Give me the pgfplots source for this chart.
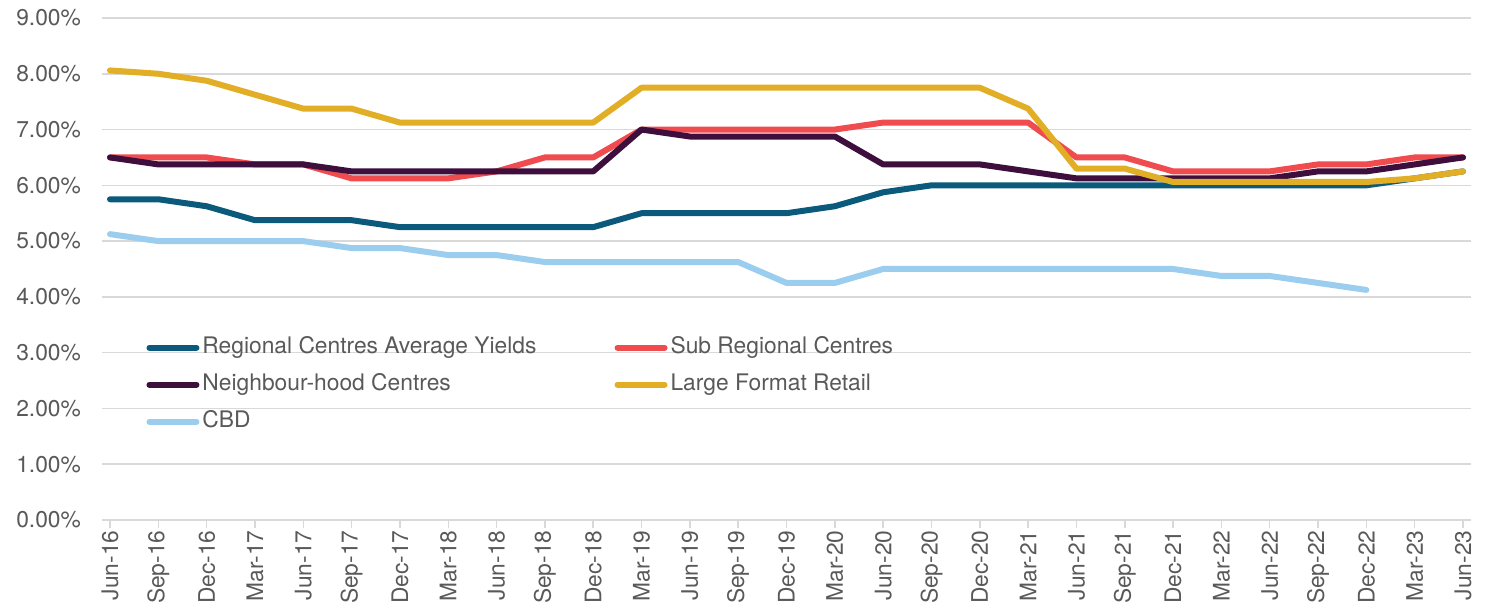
\documentclass[border=0pt]{standalone}
\usepackage{fontspec}
\setmainfont{TeX Gyre Heros}
\usepackage{pgfplots}
\pgfplotsset{compat=1.18}
\definecolor{cTeal}{HTML}{0B5A7C}
\definecolor{cRed}{HTML}{F04C4F}
\definecolor{cPurple}{HTML}{3E0E3C}
\definecolor{cGold}{HTML}{E2AE26}
\definecolor{cBlue}{HTML}{9BCEEE}
\definecolor{gridgray}{HTML}{D9D9D9}
\definecolor{textgray}{HTML}{595959}
\begin{document}
\begin{tikzpicture}
\begin{axis}[
  scale only axis, width=684.5pt, height=251pt,
  xmin=-0.1656, xmax=28.1656, ymin=0, ymax=9,
  axis x line*=bottom, axis y line*=left,
  x axis line style={gridgray, line width=0.75pt},
  y axis line style={draw=none},
  ytick={0,1,...,9}, ymajorgrids,
  grid style={gridgray, line width=0.75pt},
  xtick={0,1,...,28},
  xticklabels={Jun-16,Sep-16,Dec-16,Mar-17,Jun-17,Sep-17,Dec-17,Mar-18,Jun-18,Sep-18,Dec-18,Mar-19,Jun-19,Sep-19,Dec-19,Mar-20,Jun-20,Sep-20,Dec-20,Mar-21,Jun-21,Sep-21,Dec-21,Mar-22,Jun-22,Sep-22,Dec-22,Mar-23,Jun-23},
  tick align=outside, major tick length=4pt,
  xtick style={gridgray, line width=0.75pt},
  ytick style={draw=none},
  /pgf/number format/assume math mode=true,
  yticklabel={\pgfmathprintnumber[fixed,fixed zerofill,precision=2]{\tick}\%},
  tick label style={font=\fontsize{11.4}{13}\selectfont, text=textgray},
  x tick label style={rotate=90, anchor=east, inner sep=1pt},
  y tick label style={xshift=-3pt},
  legend columns=2,
  legend cell align=left,
  legend image code/.code={\draw[#1, line width=3pt, line cap=round] (0pt,0pt) -- (23.5pt,0pt);},
  legend style={draw=none, fill=none, at={(axis description cs:0.0278,0.380)}, anchor=north west,
    font=\fontsize{11.4}{13}\selectfont, text=textgray, row sep=4.5pt,
    nodes={inner sep=1.5pt, text depth=0.25em},
    /tikz/every even column/.append style={column sep=37.5pt}},
  every axis plot/.append style={line width=3pt, line join=round, line cap=round},
]
\addplot[cTeal] coordinates {(0,5.75)(1,5.75)(2,5.625)(3,5.375)(4,5.375)(5,5.375)(6,5.25)(7,5.25)(8,5.25)(9,5.25)(10,5.25)(11,5.5)(12,5.5)(13,5.5)(14,5.5)(15,5.625)(16,5.875)(17,6)(18,6)(19,6)(20,6)(21,6)(22,6)(23,6)(24,6)(25,6)(26,6)(27,6.125)(28,6.25)};
\addlegendentry{Regional Centres Average Yields}
\addplot[cRed] coordinates {(0,6.5)(1,6.5)(2,6.5)(3,6.375)(4,6.375)(5,6.125)(6,6.125)(7,6.125)(8,6.25)(9,6.5)(10,6.5)(11,7)(12,7)(13,7)(14,7)(15,7)(16,7.125)(17,7.125)(18,7.125)(19,7.125)(20,6.5)(21,6.5)(22,6.25)(23,6.25)(24,6.25)(25,6.375)(26,6.375)(27,6.5)(28,6.5)};
\addlegendentry{Sub Regional Centres}
\addplot[cPurple] coordinates {(0,6.5)(1,6.375)(2,6.375)(3,6.375)(4,6.375)(5,6.25)(6,6.25)(7,6.25)(8,6.25)(9,6.25)(10,6.25)(11,7)(12,6.875)(13,6.875)(14,6.875)(15,6.875)(16,6.375)(17,6.375)(18,6.375)(19,6.25)(20,6.125)(21,6.125)(22,6.125)(23,6.125)(24,6.125)(25,6.25)(26,6.25)(27,6.375)(28,6.5)};
\addlegendentry{Neighbour-hood Centres}
\addplot[cGold] coordinates {(0,8.06)(1,8)(2,7.875)(3,7.625)(4,7.375)(5,7.375)(6,7.125)(7,7.125)(8,7.125)(9,7.125)(10,7.125)(11,7.75)(12,7.75)(13,7.75)(14,7.75)(15,7.75)(16,7.75)(17,7.75)(18,7.75)(19,7.375)(20,6.3)(21,6.3)(22,6.06)(23,6.06)(24,6.06)(25,6.06)(26,6.06)(27,6.125)(28,6.25)};
\addlegendentry{Large Format Retail}
\addplot[cBlue] coordinates {(0,5.125)(1,5)(2,5)(3,5)(4,5)(5,4.875)(6,4.875)(7,4.75)(8,4.75)(9,4.625)(10,4.625)(11,4.625)(12,4.625)(13,4.625)(14,4.25)(15,4.25)(16,4.5)(17,4.5)(18,4.5)(19,4.5)(20,4.5)(21,4.5)(22,4.5)(23,4.375)(24,4.375)(25,4.25)(26,4.125)};
\addlegendentry{CBD}
\end{axis}
\path[use as bounding box] ([xshift=-51pt,yshift=-44.5pt]current axis.south west) rectangle ([xshift=12.5pt,yshift=9pt]current axis.north east);
\end{tikzpicture}
\end{document}
